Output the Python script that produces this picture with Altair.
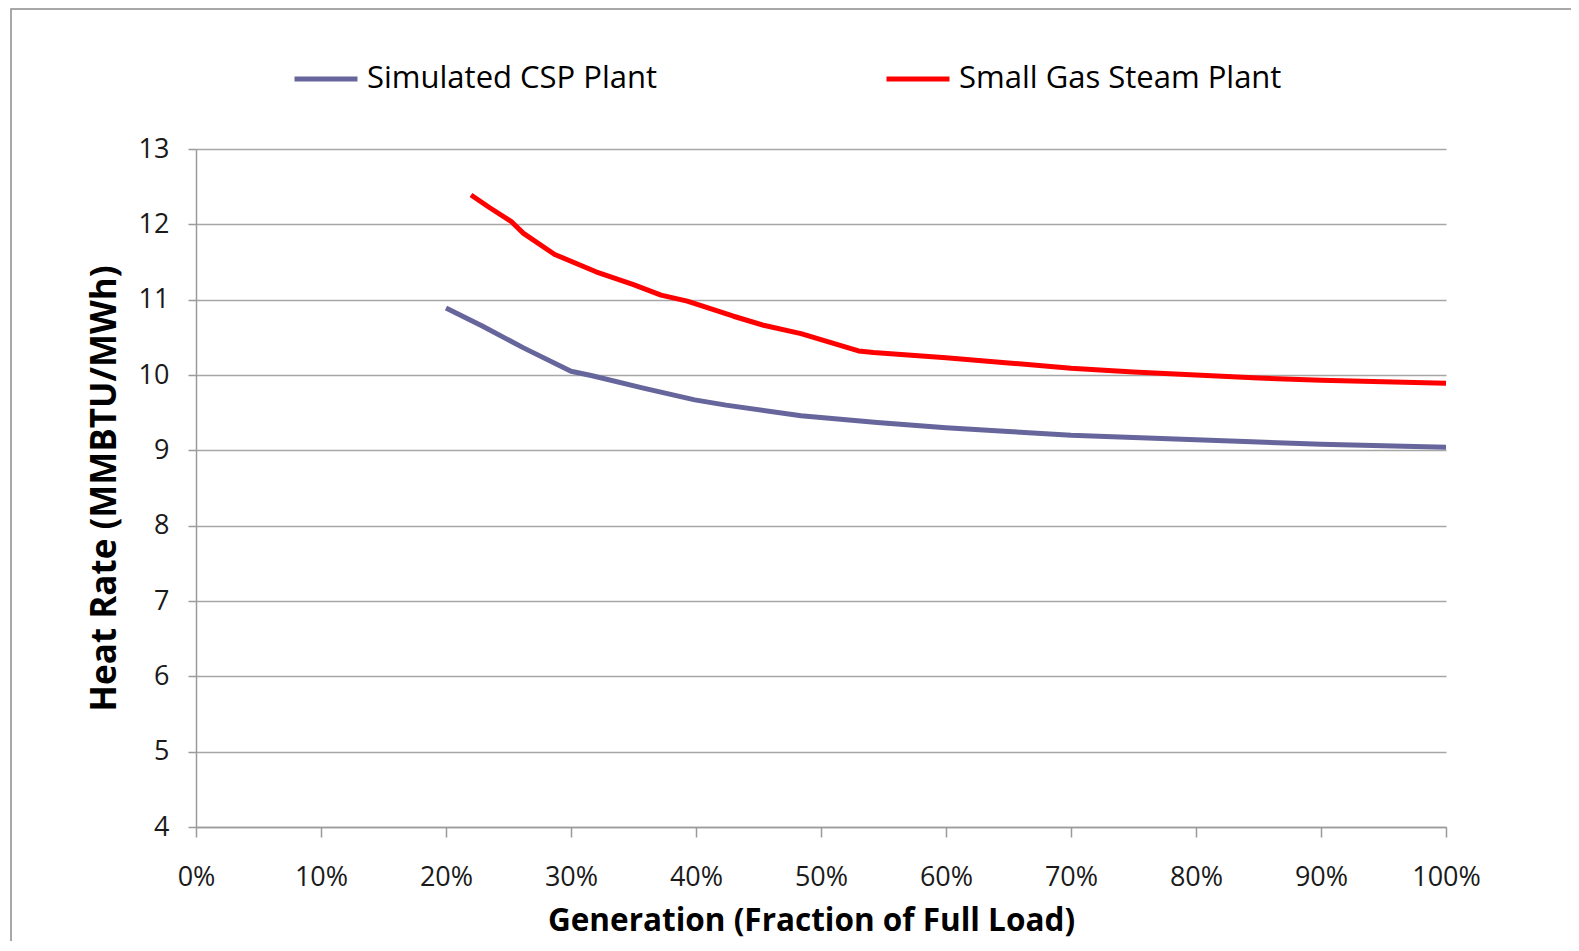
import altair as alt
import pandas as pd

# Data
csp_load = [20, 22.9, 26.2, 30, 31.7, 35.7, 39.9, 42.4, 48.4, 54.5, 60, 65, 70, 75, 80, 85, 90, 95, 100]
csp_rate = [10.89, 10.65, 10.36, 10.05, 9.99, 9.83, 9.67, 9.60, 9.46, 9.37, 9.30, 9.25, 9.20, 9.17, 9.14, 9.11, 9.08, 9.06, 9.04]

gas_load = [22, 23.5, 25.2, 26.2, 28.7, 32, 35, 37.2, 39.3, 43, 45.4, 48.4, 50, 53, 54.2, 60, 65, 70, 75, 80, 85, 90, 95, 100]
gas_rate = [12.39, 12.22, 12.04, 11.88, 11.60, 11.37, 11.20, 11.06, 10.98, 10.78, 10.66, 10.55, 10.47, 10.32, 10.30, 10.23, 10.16, 10.09, 10.04, 10.00, 9.96, 9.93, 9.91, 9.89]

series_names = ["Simulated CSP Plant", "Small Gas Steam Plant"]
series_colors = ["#66669C", "#FF0000"]
x_ticks = [0, 10, 20, 30, 40, 50, 60, 70, 80, 90, 100]
y_ticks = [4, 5, 6, 7, 8, 9, 10, 11, 12, 13]

df = pd.concat([
    pd.DataFrame({"load": csp_load, "rate": csp_rate, "series": series_names[0], "order": range(len(csp_load))}),
    pd.DataFrame({"load": gas_load, "rate": gas_rate, "series": series_names[1], "order": range(len(gas_load))}),
])

FONT = "Open Sans"
W, H = 1250, 678

lines = alt.Chart(df).mark_line(strokeWidth=5, strokeCap="butt", strokeJoin="round").encode(
    x=alt.X("load:Q",
            scale=alt.Scale(domain=[0, 100], nice=False),
            axis=alt.Axis(values=x_ticks, labelExpr="datum.value + '%'", grid=False,
                          labelFlush=False,
                          title="Generation (Fraction of Full Load)", titleFontSize=31.5,
                          tickSize=10, labelPadding=27, titleX=615, titleY=94,
                          titleBaseline="middle")),
    y=alt.Y("rate:Q",
            scale=alt.Scale(domain=[4, 13], nice=False, zero=False),
            axis=alt.Axis(values=y_ticks, grid=True, title="Heat Rate (MMBTU/MWh)",
                          titleFontSize=35,
                          tickSize=8, labelPadding=19, titleX=-92, titleY=339,
                          titleBaseline="middle", titleAngle=270)),
    color=alt.Color("series:N",
                    scale=alt.Scale(domain=series_names, range=series_colors),
                    legend=alt.Legend(title=None, orient="none", direction="horizontal",
                                      legendX=96, legendY=-104,
                                      symbolType="stroke", symbolSize=3969,
                                      symbolStrokeWidth=5, columnPadding=218,
                                      labelOffset=7, labelFont=FONT, labelFontSize=31,
                                      labelColor="#000000", labelLimit=600)),
    order="order:Q",
)

frame = alt.Chart(pd.DataFrame({"k": [0]})).mark_rect(
    fill="transparent", stroke="#8C8C8C", strokeWidth=1.5
).encode(
    x=alt.value(-185), x2=alt.value(1500), y=alt.value(-140), y2=alt.value(900)
)

chart = alt.layer(frame, lines).properties(
    width=W, height=H,
    autosize=alt.AutoSizeParams(type="none"),
    padding={"left": 188, "top": 141, "right": 125, "bottom": 114},
).configure_view(stroke=None).configure_axis(
    labelFont=FONT, labelFontSize=27, labelColor="#1A1A1A",
    titleFont=FONT, titleFontWeight="bold", titleColor="#000000",
    domainColor="#9A9A9A", domainWidth=1.5, tickColor="#9A9A9A", tickWidth=1.5,
    gridColor="#A6A6A6", gridWidth=1.5,
)

chart.save("out.html", embed_options={"renderer": "svg", "actions": False})
